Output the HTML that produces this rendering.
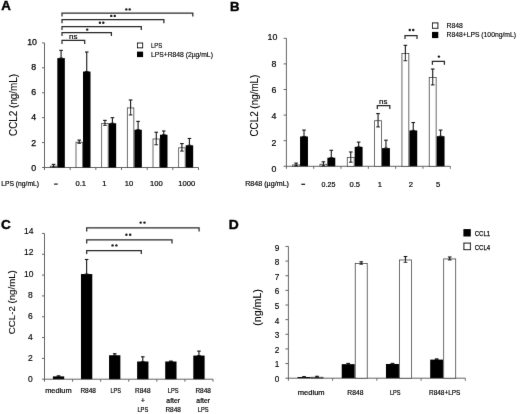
<!DOCTYPE html>
<html><head><meta charset="utf-8"><title>Figure</title>
<style>
html,body{margin:0;padding:0;background:#fff;}
body{width:520px;height:414px;overflow:hidden;}
svg{display:block;font-family:"Liberation Sans",sans-serif;}
</style></head><body>
<svg width="520" height="414" viewBox="0 0 520 414">
<defs><filter id="soft" x="0" y="0" width="520" height="414" filterUnits="userSpaceOnUse"><feConvolveMatrix order="3" kernelMatrix="0.0036 0.0528 0.0036 0.0528 0.7744 0.0528 0.0036 0.0528 0.0036" divisor="1" edgeMode="duplicate" preserveAlpha="false"/></filter></defs>
<rect width="520" height="414" fill="#fff"/>
<g filter="url(#soft)">
<line x1="44.50" y1="42.90" x2="44.50" y2="168.00" stroke="#666" stroke-width="1"/>
<line x1="44.00" y1="167.50" x2="198.50" y2="167.50" stroke="#666" stroke-width="1"/>
<line x1="42.00" y1="167.50" x2="44.50" y2="167.50" stroke="#666" stroke-width="1"/>
<text x="36.20" y="170.77" font-size="8.8" text-anchor="end" fill="#000" stroke="#000" stroke-width="0.25">0</text>
<line x1="42.00" y1="142.58" x2="44.50" y2="142.58" stroke="#666" stroke-width="1"/>
<text x="36.20" y="145.59" font-size="8.8" text-anchor="end" fill="#000" stroke="#000" stroke-width="0.25">2</text>
<line x1="42.00" y1="117.66" x2="44.50" y2="117.66" stroke="#666" stroke-width="1"/>
<text x="36.20" y="120.41" font-size="8.8" text-anchor="end" fill="#000" stroke="#000" stroke-width="0.25">4</text>
<line x1="42.00" y1="92.74" x2="44.50" y2="92.74" stroke="#666" stroke-width="1"/>
<text x="36.20" y="95.23" font-size="8.8" text-anchor="end" fill="#000" stroke="#000" stroke-width="0.25">6</text>
<line x1="42.00" y1="67.82" x2="44.50" y2="67.82" stroke="#666" stroke-width="1"/>
<text x="36.20" y="70.05" font-size="8.8" text-anchor="end" fill="#000" stroke="#000" stroke-width="0.25">8</text>
<line x1="42.00" y1="42.90" x2="44.50" y2="42.90" stroke="#666" stroke-width="1"/>
<text x="37.00" y="44.87" font-size="8.8" text-anchor="end" fill="#000" stroke="#000" stroke-width="0.25">10</text>
<line x1="44.50" y1="167.50" x2="44.50" y2="170.00" stroke="#666" stroke-width="1"/>
<line x1="70.17" y1="167.50" x2="70.17" y2="170.00" stroke="#666" stroke-width="1"/>
<line x1="95.83" y1="167.50" x2="95.83" y2="170.00" stroke="#666" stroke-width="1"/>
<line x1="121.50" y1="167.50" x2="121.50" y2="170.00" stroke="#666" stroke-width="1"/>
<line x1="147.17" y1="167.50" x2="147.17" y2="170.00" stroke="#666" stroke-width="1"/>
<line x1="172.83" y1="167.50" x2="172.83" y2="170.00" stroke="#666" stroke-width="1"/>
<line x1="198.50" y1="167.50" x2="198.50" y2="170.00" stroke="#666" stroke-width="1"/>
<rect x="50.33" y="166.13" width="6.50" height="1.37" fill="#fff" stroke="#3c3c3c" stroke-width="0.8"/>
<line x1="53.58" y1="164.38" x2="53.58" y2="166.88" stroke="#151515" stroke-width="1.1"/>
<line x1="51.78" y1="164.38" x2="55.38" y2="164.38" stroke="#151515" stroke-width="1.1"/>
<line x1="51.78" y1="166.88" x2="55.38" y2="166.88" stroke="#151515" stroke-width="1.1"/>
<rect x="57.33" y="58.10" width="7.50" height="109.40" fill="#000"/>
<line x1="61.08" y1="50.38" x2="61.08" y2="58.10" stroke="#151515" stroke-width="1.1"/>
<line x1="59.28" y1="50.38" x2="62.88" y2="50.38" stroke="#151515" stroke-width="1.1"/>
<line x1="59.28" y1="58.10" x2="62.88" y2="58.10" stroke="#151515" stroke-width="1.1"/>
<rect x="76.00" y="142.21" width="6.50" height="25.29" fill="#fff" stroke="#3c3c3c" stroke-width="0.8"/>
<line x1="79.25" y1="140.09" x2="79.25" y2="143.33" stroke="#151515" stroke-width="1.1"/>
<line x1="77.45" y1="140.09" x2="81.05" y2="140.09" stroke="#151515" stroke-width="1.1"/>
<line x1="77.45" y1="143.33" x2="81.05" y2="143.33" stroke="#151515" stroke-width="1.1"/>
<rect x="83.00" y="71.56" width="7.50" height="95.94" fill="#000"/>
<line x1="86.75" y1="52.00" x2="86.75" y2="71.56" stroke="#151515" stroke-width="1.1"/>
<line x1="84.95" y1="52.00" x2="88.55" y2="52.00" stroke="#151515" stroke-width="1.1"/>
<line x1="84.95" y1="71.56" x2="88.55" y2="71.56" stroke="#151515" stroke-width="1.1"/>
<rect x="101.67" y="123.39" width="6.50" height="44.11" fill="#fff" stroke="#3c3c3c" stroke-width="0.8"/>
<line x1="104.92" y1="120.40" x2="104.92" y2="125.39" stroke="#151515" stroke-width="1.1"/>
<line x1="103.12" y1="120.40" x2="106.72" y2="120.40" stroke="#151515" stroke-width="1.1"/>
<line x1="103.12" y1="125.39" x2="106.72" y2="125.39" stroke="#151515" stroke-width="1.1"/>
<rect x="108.67" y="123.27" width="7.50" height="44.23" fill="#000"/>
<line x1="112.42" y1="117.66" x2="112.42" y2="123.27" stroke="#151515" stroke-width="1.1"/>
<line x1="110.62" y1="117.66" x2="114.22" y2="117.66" stroke="#151515" stroke-width="1.1"/>
<line x1="110.62" y1="123.27" x2="114.22" y2="123.27" stroke="#151515" stroke-width="1.1"/>
<rect x="127.33" y="107.94" width="6.50" height="59.56" fill="#fff" stroke="#3c3c3c" stroke-width="0.8"/>
<line x1="130.58" y1="99.97" x2="130.58" y2="114.92" stroke="#151515" stroke-width="1.1"/>
<line x1="128.78" y1="99.97" x2="132.38" y2="99.97" stroke="#151515" stroke-width="1.1"/>
<line x1="128.78" y1="114.92" x2="132.38" y2="114.92" stroke="#151515" stroke-width="1.1"/>
<rect x="134.33" y="129.75" width="7.50" height="37.75" fill="#000"/>
<line x1="138.08" y1="121.40" x2="138.08" y2="129.75" stroke="#151515" stroke-width="1.1"/>
<line x1="136.28" y1="121.40" x2="139.88" y2="121.40" stroke="#151515" stroke-width="1.1"/>
<line x1="136.28" y1="129.75" x2="139.88" y2="129.75" stroke="#151515" stroke-width="1.1"/>
<rect x="153.00" y="138.97" width="6.50" height="28.53" fill="#fff" stroke="#3c3c3c" stroke-width="0.8"/>
<line x1="156.25" y1="132.24" x2="156.25" y2="144.70" stroke="#151515" stroke-width="1.1"/>
<line x1="154.45" y1="132.24" x2="158.05" y2="132.24" stroke="#151515" stroke-width="1.1"/>
<line x1="154.45" y1="144.70" x2="158.05" y2="144.70" stroke="#151515" stroke-width="1.1"/>
<rect x="160.00" y="134.73" width="7.50" height="32.77" fill="#000"/>
<line x1="163.75" y1="130.99" x2="163.75" y2="134.73" stroke="#151515" stroke-width="1.1"/>
<line x1="161.95" y1="130.99" x2="165.55" y2="130.99" stroke="#151515" stroke-width="1.1"/>
<line x1="161.95" y1="134.73" x2="165.55" y2="134.73" stroke="#151515" stroke-width="1.1"/>
<rect x="178.67" y="147.81" width="6.50" height="19.69" fill="#fff" stroke="#3c3c3c" stroke-width="0.8"/>
<line x1="181.92" y1="143.58" x2="181.92" y2="151.05" stroke="#151515" stroke-width="1.1"/>
<line x1="180.12" y1="143.58" x2="183.72" y2="143.58" stroke="#151515" stroke-width="1.1"/>
<line x1="180.12" y1="151.05" x2="183.72" y2="151.05" stroke="#151515" stroke-width="1.1"/>
<rect x="185.67" y="145.32" width="7.50" height="22.18" fill="#000"/>
<line x1="189.42" y1="138.47" x2="189.42" y2="145.32" stroke="#151515" stroke-width="1.1"/>
<line x1="187.62" y1="138.47" x2="191.22" y2="138.47" stroke="#151515" stroke-width="1.1"/>
<line x1="187.62" y1="145.32" x2="191.22" y2="145.32" stroke="#151515" stroke-width="1.1"/>
<polyline points="62.00,43.90 62.00,40.40 84.70,40.40 84.70,43.90" fill="none" stroke="#2a2a2a" stroke-width="1.25"/>
<polyline points="62.00,36.10 62.00,32.60 111.40,32.60 111.40,36.10" fill="none" stroke="#2a2a2a" stroke-width="1.25"/>
<polyline points="62.00,30.00 62.00,26.50 141.30,26.50 141.30,30.00" fill="none" stroke="#2a2a2a" stroke-width="1.25"/>
<polyline points="62.00,23.20 62.00,19.70 163.90,19.70 163.90,23.20" fill="none" stroke="#2a2a2a" stroke-width="1.25"/>
<polyline points="62.00,16.50 62.00,13.00 192.80,13.00 192.80,16.50" fill="none" stroke="#2a2a2a" stroke-width="1.25"/>
<text x="73.30" y="39.00" font-size="8" text-anchor="middle" fill="#000" stroke="#000" stroke-width="0.2">ns</text>
<circle cx="87.20" cy="29.60" r="1.22" fill="#151515"/>
<circle cx="99.90" cy="22.80" r="1.22" fill="#151515"/>
<circle cx="103.30" cy="22.80" r="1.22" fill="#151515"/>
<circle cx="111.30" cy="15.90" r="1.22" fill="#151515"/>
<circle cx="114.70" cy="15.90" r="1.22" fill="#151515"/>
<circle cx="126.30" cy="9.40" r="1.22" fill="#151515"/>
<circle cx="129.70" cy="9.40" r="1.22" fill="#151515"/>
<text x="1.20" y="10.40" font-size="12" text-anchor="start" fill="#000" font-weight="bold" textLength="9.60" lengthAdjust="spacingAndGlyphs" stroke="#000" stroke-width="0.4">A</text>
<text x="16.80" y="104.90" font-size="10" text-anchor="middle" fill="#000" textLength="62.00" lengthAdjust="spacingAndGlyphs" transform="rotate(-90 16.80 104.90)" stroke="#000" stroke-width="0.1">CCL2 (ng/mL)</text>
<text x="1.30" y="186.20" font-size="7.6" text-anchor="start" fill="#000" textLength="37.70" lengthAdjust="spacingAndGlyphs" stroke="#000" stroke-width="0.2">LPS (ng/mL)</text>
<text x="80.80" y="186.20" font-size="7.6" text-anchor="middle" fill="#000" stroke="#000" stroke-width="0.2">0.1</text>
<text x="104.30" y="186.20" font-size="7.6" text-anchor="middle" fill="#000" stroke="#000" stroke-width="0.2">1</text>
<text x="128.90" y="186.20" font-size="7.6" text-anchor="middle" fill="#000" stroke="#000" stroke-width="0.2">10</text>
<text x="156.30" y="186.20" font-size="7.6" text-anchor="middle" fill="#000" stroke="#000" stroke-width="0.2">100</text>
<text x="186.70" y="186.20" font-size="7.6" text-anchor="middle" fill="#000" stroke="#000" stroke-width="0.2">1000</text>
<line x1="54.10" y1="184.10" x2="57.70" y2="184.10" stroke="#111" stroke-width="1.2"/>
<rect x="137.5" y="43" width="5.1" height="4.8" fill="#fff" stroke="#111" stroke-width="1"/>
<rect x="137" y="51.6" width="6.1" height="5.5" fill="#000"/>
<text x="150.90" y="48.30" font-size="7" text-anchor="start" fill="#000" textLength="11.30" lengthAdjust="spacingAndGlyphs" stroke="#000" stroke-width="0.15">LPS</text>
<text x="150.90" y="56.60" font-size="7" text-anchor="start" fill="#000" textLength="62.00" lengthAdjust="spacingAndGlyphs" stroke="#000" stroke-width="0.15">LPS+R848 (2µg/mL)</text>
<line x1="286.40" y1="38.30" x2="286.40" y2="166.80" stroke="#666" stroke-width="1"/>
<line x1="285.90" y1="166.30" x2="450.30" y2="166.30" stroke="#666" stroke-width="1"/>
<line x1="283.60" y1="166.30" x2="286.40" y2="166.30" stroke="#666" stroke-width="1"/>
<text x="276.50" y="172.27" font-size="8.8" text-anchor="end" fill="#000" stroke="#000" stroke-width="0.2">0</text>
<line x1="283.60" y1="140.70" x2="286.40" y2="140.70" stroke="#666" stroke-width="1"/>
<text x="276.50" y="145.87" font-size="8.8" text-anchor="end" fill="#000" stroke="#000" stroke-width="0.2">2</text>
<line x1="283.60" y1="115.10" x2="286.40" y2="115.10" stroke="#666" stroke-width="1"/>
<text x="276.50" y="119.47" font-size="8.8" text-anchor="end" fill="#000" stroke="#000" stroke-width="0.2">4</text>
<line x1="283.60" y1="89.50" x2="286.40" y2="89.50" stroke="#666" stroke-width="1"/>
<text x="276.50" y="93.07" font-size="8.8" text-anchor="end" fill="#000" stroke="#000" stroke-width="0.2">6</text>
<line x1="283.60" y1="63.90" x2="286.40" y2="63.90" stroke="#666" stroke-width="1"/>
<text x="276.50" y="66.67" font-size="8.8" text-anchor="end" fill="#000" stroke="#000" stroke-width="0.2">8</text>
<line x1="283.60" y1="38.30" x2="286.40" y2="38.30" stroke="#666" stroke-width="1"/>
<text x="277.30" y="40.27" font-size="8.8" text-anchor="end" fill="#000" stroke="#000" stroke-width="0.2">10</text>
<line x1="286.40" y1="166.30" x2="286.40" y2="168.80" stroke="#666" stroke-width="1"/>
<line x1="313.72" y1="166.30" x2="313.72" y2="168.80" stroke="#666" stroke-width="1"/>
<line x1="341.03" y1="166.30" x2="341.03" y2="168.80" stroke="#666" stroke-width="1"/>
<line x1="368.35" y1="166.30" x2="368.35" y2="168.80" stroke="#666" stroke-width="1"/>
<line x1="395.67" y1="166.30" x2="395.67" y2="168.80" stroke="#666" stroke-width="1"/>
<line x1="422.98" y1="166.30" x2="422.98" y2="168.80" stroke="#666" stroke-width="1"/>
<line x1="450.30" y1="166.30" x2="450.30" y2="168.80" stroke="#666" stroke-width="1"/>
<rect x="292.66" y="164.88" width="6.90" height="1.42" fill="#fff" stroke="#3c3c3c" stroke-width="0.8"/>
<line x1="296.11" y1="163.10" x2="296.11" y2="165.66" stroke="#151515" stroke-width="1.1"/>
<line x1="294.31" y1="163.10" x2="297.91" y2="163.10" stroke="#151515" stroke-width="1.1"/>
<line x1="294.31" y1="165.66" x2="297.91" y2="165.66" stroke="#151515" stroke-width="1.1"/>
<rect x="300.06" y="136.48" width="7.90" height="29.82" fill="#000"/>
<line x1="304.01" y1="130.08" x2="304.01" y2="136.48" stroke="#151515" stroke-width="1.1"/>
<line x1="302.21" y1="130.08" x2="305.81" y2="130.08" stroke="#151515" stroke-width="1.1"/>
<line x1="302.21" y1="136.48" x2="305.81" y2="136.48" stroke="#151515" stroke-width="1.1"/>
<rect x="319.98" y="164.24" width="6.90" height="2.06" fill="#fff" stroke="#3c3c3c" stroke-width="0.8"/>
<line x1="323.43" y1="161.82" x2="323.43" y2="165.66" stroke="#151515" stroke-width="1.1"/>
<line x1="321.62" y1="161.82" x2="325.23" y2="161.82" stroke="#151515" stroke-width="1.1"/>
<line x1="321.62" y1="165.66" x2="325.23" y2="165.66" stroke="#151515" stroke-width="1.1"/>
<rect x="327.38" y="157.72" width="7.90" height="8.58" fill="#000"/>
<line x1="331.32" y1="150.30" x2="331.32" y2="157.72" stroke="#151515" stroke-width="1.1"/>
<line x1="329.52" y1="150.30" x2="333.12" y2="150.30" stroke="#151515" stroke-width="1.1"/>
<line x1="329.52" y1="157.72" x2="333.12" y2="157.72" stroke="#151515" stroke-width="1.1"/>
<rect x="347.29" y="157.58" width="6.90" height="8.72" fill="#fff" stroke="#3c3c3c" stroke-width="0.8"/>
<line x1="350.74" y1="151.96" x2="350.74" y2="162.20" stroke="#151515" stroke-width="1.1"/>
<line x1="348.94" y1="151.96" x2="352.54" y2="151.96" stroke="#151515" stroke-width="1.1"/>
<line x1="348.94" y1="162.20" x2="352.54" y2="162.20" stroke="#151515" stroke-width="1.1"/>
<rect x="354.69" y="146.84" width="7.90" height="19.46" fill="#000"/>
<line x1="358.64" y1="142.11" x2="358.64" y2="146.84" stroke="#151515" stroke-width="1.1"/>
<line x1="356.84" y1="142.11" x2="360.44" y2="142.11" stroke="#151515" stroke-width="1.1"/>
<line x1="356.84" y1="146.84" x2="360.44" y2="146.84" stroke="#151515" stroke-width="1.1"/>
<rect x="374.61" y="120.72" width="6.90" height="45.58" fill="#fff" stroke="#3c3c3c" stroke-width="0.8"/>
<line x1="378.06" y1="113.56" x2="378.06" y2="126.88" stroke="#151515" stroke-width="1.1"/>
<line x1="376.26" y1="113.56" x2="379.86" y2="113.56" stroke="#151515" stroke-width="1.1"/>
<line x1="376.26" y1="126.88" x2="379.86" y2="126.88" stroke="#151515" stroke-width="1.1"/>
<rect x="382.01" y="148.12" width="7.90" height="18.18" fill="#000"/>
<line x1="385.96" y1="140.19" x2="385.96" y2="148.12" stroke="#151515" stroke-width="1.1"/>
<line x1="384.16" y1="140.19" x2="387.76" y2="140.19" stroke="#151515" stroke-width="1.1"/>
<line x1="384.16" y1="148.12" x2="387.76" y2="148.12" stroke="#151515" stroke-width="1.1"/>
<rect x="401.93" y="53.52" width="6.90" height="112.78" fill="#fff" stroke="#3c3c3c" stroke-width="0.8"/>
<line x1="405.38" y1="45.34" x2="405.38" y2="60.70" stroke="#151515" stroke-width="1.1"/>
<line x1="403.57" y1="45.34" x2="407.18" y2="45.34" stroke="#151515" stroke-width="1.1"/>
<line x1="403.57" y1="60.70" x2="407.18" y2="60.70" stroke="#151515" stroke-width="1.1"/>
<rect x="409.32" y="130.46" width="7.90" height="35.84" fill="#000"/>
<line x1="413.27" y1="122.52" x2="413.27" y2="130.46" stroke="#151515" stroke-width="1.1"/>
<line x1="411.47" y1="122.52" x2="415.07" y2="122.52" stroke="#151515" stroke-width="1.1"/>
<line x1="411.47" y1="130.46" x2="415.07" y2="130.46" stroke="#151515" stroke-width="1.1"/>
<rect x="429.24" y="77.46" width="6.90" height="88.84" fill="#fff" stroke="#3c3c3c" stroke-width="0.8"/>
<line x1="432.69" y1="69.02" x2="432.69" y2="84.89" stroke="#151515" stroke-width="1.1"/>
<line x1="430.89" y1="69.02" x2="434.49" y2="69.02" stroke="#151515" stroke-width="1.1"/>
<line x1="430.89" y1="84.89" x2="434.49" y2="84.89" stroke="#151515" stroke-width="1.1"/>
<rect x="436.64" y="136.22" width="7.90" height="30.08" fill="#000"/>
<line x1="440.59" y1="130.08" x2="440.59" y2="136.22" stroke="#151515" stroke-width="1.1"/>
<line x1="438.79" y1="130.08" x2="442.39" y2="130.08" stroke="#151515" stroke-width="1.1"/>
<line x1="438.79" y1="136.22" x2="442.39" y2="136.22" stroke="#151515" stroke-width="1.1"/>
<polyline points="377.30,109.00 377.30,105.70 389.80,105.70 389.80,109.00" fill="none" stroke="#2a2a2a" stroke-width="1.25"/>
<polyline points="405.00,38.90 405.00,35.60 417.00,35.60 417.00,38.90" fill="none" stroke="#2a2a2a" stroke-width="1.25"/>
<polyline points="432.40,64.70 432.40,61.40 444.40,61.40 444.40,64.70" fill="none" stroke="#2a2a2a" stroke-width="1.25"/>
<text x="383.20" y="103.80" font-size="8" text-anchor="middle" fill="#000" stroke="#000" stroke-width="0.2">ns</text>
<circle cx="409.80" cy="30.00" r="1.22" fill="#151515"/>
<circle cx="413.20" cy="30.00" r="1.22" fill="#151515"/>
<circle cx="438.90" cy="56.60" r="1.22" fill="#151515"/>
<text x="230.00" y="10.50" font-size="12" text-anchor="start" fill="#000" font-weight="bold" textLength="9.50" lengthAdjust="spacingAndGlyphs" stroke="#000" stroke-width="0.4">B</text>
<text x="257.60" y="105.60" font-size="10" text-anchor="middle" fill="#000" textLength="62.00" lengthAdjust="spacingAndGlyphs" transform="rotate(-90 257.60 105.60)" stroke="#000" stroke-width="0.1">CCL2 (ng/mL)</text>
<text x="245.20" y="186.30" font-size="7.6" text-anchor="start" fill="#000" textLength="43.80" lengthAdjust="spacingAndGlyphs" stroke="#000" stroke-width="0.2">R848 (µg/mL)</text>
<text x="328.50" y="186.70" font-size="7.6" text-anchor="middle" fill="#000" textLength="13.80" lengthAdjust="spacingAndGlyphs" stroke="#000" stroke-width="0.2">0.25</text>
<text x="354.70" y="186.70" font-size="7.6" text-anchor="middle" fill="#000" stroke="#000" stroke-width="0.2">0.5</text>
<text x="379.80" y="186.70" font-size="7.6" text-anchor="middle" fill="#000" stroke="#000" stroke-width="0.2">1</text>
<text x="410.90" y="186.70" font-size="7.6" text-anchor="middle" fill="#000" stroke="#000" stroke-width="0.2">2</text>
<text x="438.20" y="186.70" font-size="7.6" text-anchor="middle" fill="#000" stroke="#000" stroke-width="0.2">5</text>
<line x1="301.30" y1="184.30" x2="305.10" y2="184.30" stroke="#111" stroke-width="1.2"/>
<rect x="432.5" y="22.9" width="5.4" height="5.4" fill="#fff" stroke="#111" stroke-width="1"/>
<rect x="432" y="31.9" width="6.3" height="6.2" fill="#000"/>
<text x="446.50" y="28.30" font-size="7.4" text-anchor="start" fill="#000" textLength="16.40" lengthAdjust="spacingAndGlyphs" stroke="#000" stroke-width="0.15">R848</text>
<text x="446.50" y="37.20" font-size="7.4" text-anchor="start" fill="#000" textLength="69.50" lengthAdjust="spacingAndGlyphs" stroke="#000" stroke-width="0.15">R848+LPS (100ng/mL)</text>
<line x1="44.50" y1="233.40" x2="44.50" y2="379.70" stroke="#666" stroke-width="1"/>
<line x1="44.00" y1="379.20" x2="213.00" y2="379.20" stroke="#666" stroke-width="1"/>
<line x1="42.00" y1="379.20" x2="44.50" y2="379.20" stroke="#666" stroke-width="1"/>
<text x="32.70" y="382.16" font-size="8.5" text-anchor="end" fill="#000" stroke="#000" stroke-width="0.15">0</text>
<line x1="42.00" y1="358.38" x2="44.50" y2="358.38" stroke="#666" stroke-width="1"/>
<text x="32.70" y="361.04" font-size="8.5" text-anchor="end" fill="#000" stroke="#000" stroke-width="0.15">2</text>
<line x1="42.00" y1="337.56" x2="44.50" y2="337.56" stroke="#666" stroke-width="1"/>
<text x="32.70" y="339.92" font-size="8.5" text-anchor="end" fill="#000" stroke="#000" stroke-width="0.15">4</text>
<line x1="42.00" y1="316.74" x2="44.50" y2="316.74" stroke="#666" stroke-width="1"/>
<text x="32.70" y="318.80" font-size="8.5" text-anchor="end" fill="#000" stroke="#000" stroke-width="0.15">6</text>
<line x1="42.00" y1="295.92" x2="44.50" y2="295.92" stroke="#666" stroke-width="1"/>
<text x="32.70" y="297.68" font-size="8.5" text-anchor="end" fill="#000" stroke="#000" stroke-width="0.15">8</text>
<line x1="42.00" y1="275.10" x2="44.50" y2="275.10" stroke="#666" stroke-width="1"/>
<text x="33.50" y="276.56" font-size="8.5" text-anchor="end" fill="#000" stroke="#000" stroke-width="0.15">10</text>
<line x1="42.00" y1="254.28" x2="44.50" y2="254.28" stroke="#666" stroke-width="1"/>
<text x="33.50" y="255.44" font-size="8.5" text-anchor="end" fill="#000" stroke="#000" stroke-width="0.15">12</text>
<line x1="42.00" y1="233.46" x2="44.50" y2="233.46" stroke="#666" stroke-width="1"/>
<text x="33.50" y="234.32" font-size="8.5" text-anchor="end" fill="#000" stroke="#000" stroke-width="0.15">14</text>
<line x1="44.50" y1="379.20" x2="44.50" y2="381.70" stroke="#666" stroke-width="1"/>
<line x1="72.58" y1="379.20" x2="72.58" y2="381.70" stroke="#666" stroke-width="1"/>
<line x1="100.67" y1="379.20" x2="100.67" y2="381.70" stroke="#666" stroke-width="1"/>
<line x1="128.75" y1="379.20" x2="128.75" y2="381.70" stroke="#666" stroke-width="1"/>
<line x1="156.83" y1="379.20" x2="156.83" y2="381.70" stroke="#666" stroke-width="1"/>
<line x1="184.92" y1="379.20" x2="184.92" y2="381.70" stroke="#666" stroke-width="1"/>
<line x1="213.00" y1="379.20" x2="213.00" y2="381.70" stroke="#666" stroke-width="1"/>
<rect x="52.89" y="376.39" width="11.30" height="2.81" fill="#000"/>
<line x1="58.54" y1="375.87" x2="58.54" y2="376.39" stroke="#151515" stroke-width="1.1"/>
<line x1="56.74" y1="375.87" x2="60.34" y2="375.87" stroke="#151515" stroke-width="1.1"/>
<line x1="56.74" y1="376.39" x2="60.34" y2="376.39" stroke="#151515" stroke-width="1.1"/>
<rect x="80.97" y="274.06" width="11.30" height="105.14" fill="#000"/>
<line x1="86.62" y1="259.49" x2="86.62" y2="274.06" stroke="#151515" stroke-width="1.1"/>
<line x1="84.83" y1="259.49" x2="88.42" y2="259.49" stroke="#151515" stroke-width="1.1"/>
<line x1="84.83" y1="274.06" x2="88.42" y2="274.06" stroke="#151515" stroke-width="1.1"/>
<rect x="109.06" y="355.26" width="11.30" height="23.94" fill="#000"/>
<line x1="114.71" y1="353.70" x2="114.71" y2="355.26" stroke="#151515" stroke-width="1.1"/>
<line x1="112.91" y1="353.70" x2="116.51" y2="353.70" stroke="#151515" stroke-width="1.1"/>
<line x1="112.91" y1="355.26" x2="116.51" y2="355.26" stroke="#151515" stroke-width="1.1"/>
<rect x="137.14" y="361.50" width="11.30" height="17.70" fill="#000"/>
<line x1="142.79" y1="356.82" x2="142.79" y2="361.50" stroke="#151515" stroke-width="1.1"/>
<line x1="140.99" y1="356.82" x2="144.59" y2="356.82" stroke="#151515" stroke-width="1.1"/>
<line x1="140.99" y1="361.50" x2="144.59" y2="361.50" stroke="#151515" stroke-width="1.1"/>
<rect x="165.22" y="361.50" width="11.30" height="17.70" fill="#000"/>
<line x1="170.88" y1="361.09" x2="170.88" y2="361.50" stroke="#151515" stroke-width="1.1"/>
<line x1="169.07" y1="361.09" x2="172.68" y2="361.09" stroke="#151515" stroke-width="1.1"/>
<line x1="169.07" y1="361.50" x2="172.68" y2="361.50" stroke="#151515" stroke-width="1.1"/>
<rect x="193.31" y="355.57" width="11.30" height="23.63" fill="#000"/>
<line x1="198.96" y1="351.09" x2="198.96" y2="355.57" stroke="#151515" stroke-width="1.1"/>
<line x1="197.16" y1="351.09" x2="200.76" y2="351.09" stroke="#151515" stroke-width="1.1"/>
<line x1="197.16" y1="355.57" x2="200.76" y2="355.57" stroke="#151515" stroke-width="1.1"/>
<polyline points="86.70,254.00 86.70,250.50 141.30,250.50 141.30,254.00" fill="none" stroke="#2a2a2a" stroke-width="1.25"/>
<polyline points="86.70,243.40 86.70,239.90 172.00,239.90 172.00,243.40" fill="none" stroke="#2a2a2a" stroke-width="1.25"/>
<polyline points="86.70,231.40 86.70,227.90 199.10,227.90 199.10,231.40" fill="none" stroke="#2a2a2a" stroke-width="1.25"/>
<circle cx="112.60" cy="245.40" r="1.22" fill="#151515"/>
<circle cx="116.40" cy="245.40" r="1.22" fill="#151515"/>
<circle cx="126.40" cy="234.80" r="1.22" fill="#151515"/>
<circle cx="130.20" cy="234.80" r="1.22" fill="#151515"/>
<circle cx="140.70" cy="222.60" r="1.22" fill="#151515"/>
<circle cx="144.50" cy="222.60" r="1.22" fill="#151515"/>
<text x="1.00" y="229.40" font-size="12.5" text-anchor="start" fill="#000" font-weight="bold" textLength="9.80" lengthAdjust="spacingAndGlyphs" stroke="#000" stroke-width="0.4">C</text>
<text x="15.20" y="302.20" font-size="9.8" text-anchor="middle" fill="#000" textLength="64.00" lengthAdjust="spacingAndGlyphs" transform="rotate(-90 15.20 302.20)" stroke="#000" stroke-width="0.1">CCL-2 (ng/mL)</text>
<text x="58.40" y="393.30" font-size="7.3" text-anchor="middle" fill="#000" textLength="26.40" lengthAdjust="spacingAndGlyphs" stroke="#000" stroke-width="0.2">medium</text>
<text x="88.20" y="393.30" font-size="7.3" text-anchor="middle" fill="#000" textLength="15.60" lengthAdjust="spacingAndGlyphs" stroke="#000" stroke-width="0.2">R848</text>
<text x="115.80" y="393.30" font-size="7.3" text-anchor="middle" fill="#000" textLength="10.60" lengthAdjust="spacingAndGlyphs" stroke="#000" stroke-width="0.2">LPS</text>
<text x="142.80" y="393.10" font-size="7.3" text-anchor="middle" fill="#000" textLength="15.50" lengthAdjust="spacingAndGlyphs" stroke="#000" stroke-width="0.2">R848</text>
<text x="142.80" y="402.55" font-size="7.3" text-anchor="middle" fill="#000" stroke="#000" stroke-width="0.2">+</text>
<text x="142.80" y="412.00" font-size="7.3" text-anchor="middle" fill="#000" textLength="10.80" lengthAdjust="spacingAndGlyphs" stroke="#000" stroke-width="0.2">LPS</text>
<text x="173.20" y="393.10" font-size="7.3" text-anchor="middle" fill="#000" textLength="10.80" lengthAdjust="spacingAndGlyphs" stroke="#000" stroke-width="0.2">LPS</text>
<text x="173.20" y="402.55" font-size="7.3" text-anchor="middle" fill="#000" textLength="13.70" lengthAdjust="spacingAndGlyphs" stroke="#000" stroke-width="0.2">after</text>
<text x="173.20" y="412.00" font-size="7.3" text-anchor="middle" fill="#000" textLength="15.50" lengthAdjust="spacingAndGlyphs" stroke="#000" stroke-width="0.2">R848</text>
<text x="203.20" y="393.10" font-size="7.3" text-anchor="middle" fill="#000" textLength="15.50" lengthAdjust="spacingAndGlyphs" stroke="#000" stroke-width="0.2">R848</text>
<text x="203.20" y="402.55" font-size="7.3" text-anchor="middle" fill="#000" textLength="13.70" lengthAdjust="spacingAndGlyphs" stroke="#000" stroke-width="0.2">after</text>
<text x="203.20" y="412.00" font-size="7.3" text-anchor="middle" fill="#000" textLength="10.80" lengthAdjust="spacingAndGlyphs" stroke="#000" stroke-width="0.2">LPS</text>
<line x1="288.40" y1="246.40" x2="288.40" y2="378.70" stroke="#666" stroke-width="1"/>
<line x1="287.90" y1="378.20" x2="465.30" y2="378.20" stroke="#666" stroke-width="1"/>
<line x1="285.40" y1="378.20" x2="288.40" y2="378.20" stroke="#666" stroke-width="1"/>
<text x="279.30" y="381.95" font-size="8.2" text-anchor="end" fill="#000" stroke="#000" stroke-width="0.15">0</text>
<line x1="285.40" y1="363.56" x2="288.40" y2="363.56" stroke="#666" stroke-width="1"/>
<text x="279.30" y="367.36" font-size="8.2" text-anchor="end" fill="#000" stroke="#000" stroke-width="0.15">1</text>
<line x1="285.40" y1="348.92" x2="288.40" y2="348.92" stroke="#666" stroke-width="1"/>
<text x="279.30" y="352.77" font-size="8.2" text-anchor="end" fill="#000" stroke="#000" stroke-width="0.15">2</text>
<line x1="285.40" y1="334.28" x2="288.40" y2="334.28" stroke="#666" stroke-width="1"/>
<text x="279.30" y="338.18" font-size="8.2" text-anchor="end" fill="#000" stroke="#000" stroke-width="0.15">3</text>
<line x1="285.40" y1="319.64" x2="288.40" y2="319.64" stroke="#666" stroke-width="1"/>
<text x="279.30" y="323.59" font-size="8.2" text-anchor="end" fill="#000" stroke="#000" stroke-width="0.15">4</text>
<line x1="285.40" y1="305.00" x2="288.40" y2="305.00" stroke="#666" stroke-width="1"/>
<text x="279.30" y="309.00" font-size="8.2" text-anchor="end" fill="#000" stroke="#000" stroke-width="0.15">5</text>
<line x1="285.40" y1="290.36" x2="288.40" y2="290.36" stroke="#666" stroke-width="1"/>
<text x="279.30" y="294.41" font-size="8.2" text-anchor="end" fill="#000" stroke="#000" stroke-width="0.15">6</text>
<line x1="285.40" y1="275.72" x2="288.40" y2="275.72" stroke="#666" stroke-width="1"/>
<text x="279.30" y="279.82" font-size="8.2" text-anchor="end" fill="#000" stroke="#000" stroke-width="0.15">7</text>
<line x1="285.40" y1="261.08" x2="288.40" y2="261.08" stroke="#666" stroke-width="1"/>
<text x="279.30" y="265.23" font-size="8.2" text-anchor="end" fill="#000" stroke="#000" stroke-width="0.15">8</text>
<line x1="285.40" y1="246.44" x2="288.40" y2="246.44" stroke="#666" stroke-width="1"/>
<text x="279.30" y="250.64" font-size="8.2" text-anchor="end" fill="#000" stroke="#000" stroke-width="0.15">9</text>
<line x1="288.40" y1="378.20" x2="288.40" y2="380.70" stroke="#666" stroke-width="1"/>
<line x1="332.62" y1="378.20" x2="332.62" y2="380.70" stroke="#666" stroke-width="1"/>
<line x1="376.85" y1="378.20" x2="376.85" y2="380.70" stroke="#666" stroke-width="1"/>
<line x1="421.07" y1="378.20" x2="421.07" y2="380.70" stroke="#666" stroke-width="1"/>
<line x1="465.30" y1="378.20" x2="465.30" y2="380.70" stroke="#666" stroke-width="1"/>
<rect x="297.51" y="377.03" width="13.00" height="1.17" fill="#000"/>
<line x1="304.01" y1="376.74" x2="304.01" y2="377.03" stroke="#151515" stroke-width="1.1"/>
<line x1="302.21" y1="376.74" x2="305.81" y2="376.74" stroke="#151515" stroke-width="1.1"/>
<line x1="302.21" y1="377.03" x2="305.81" y2="377.03" stroke="#151515" stroke-width="1.1"/>
<rect x="311.01" y="377.24" width="12.00" height="0.96" fill="#fff" stroke="#3c3c3c" stroke-width="0.8"/>
<line x1="317.01" y1="376.30" x2="317.01" y2="377.18" stroke="#151515" stroke-width="1.1"/>
<line x1="315.21" y1="376.30" x2="318.81" y2="376.30" stroke="#151515" stroke-width="1.1"/>
<line x1="315.21" y1="377.18" x2="318.81" y2="377.18" stroke="#151515" stroke-width="1.1"/>
<rect x="341.74" y="364.15" width="13.00" height="14.05" fill="#000"/>
<line x1="348.24" y1="363.41" x2="348.24" y2="364.15" stroke="#151515" stroke-width="1.1"/>
<line x1="346.44" y1="363.41" x2="350.04" y2="363.41" stroke="#151515" stroke-width="1.1"/>
<line x1="346.44" y1="364.15" x2="350.04" y2="364.15" stroke="#151515" stroke-width="1.1"/>
<rect x="355.24" y="263.48" width="12.00" height="114.72" fill="#fff" stroke="#3c3c3c" stroke-width="0.8"/>
<line x1="361.24" y1="261.81" x2="361.24" y2="264.15" stroke="#151515" stroke-width="1.1"/>
<line x1="359.44" y1="261.81" x2="363.04" y2="261.81" stroke="#151515" stroke-width="1.1"/>
<line x1="359.44" y1="264.15" x2="363.04" y2="264.15" stroke="#151515" stroke-width="1.1"/>
<rect x="385.96" y="364.00" width="13.00" height="14.20" fill="#000"/>
<line x1="392.46" y1="363.41" x2="392.46" y2="364.00" stroke="#151515" stroke-width="1.1"/>
<line x1="390.66" y1="363.41" x2="394.26" y2="363.41" stroke="#151515" stroke-width="1.1"/>
<line x1="390.66" y1="364.00" x2="394.26" y2="364.00" stroke="#151515" stroke-width="1.1"/>
<rect x="399.46" y="259.97" width="12.00" height="118.23" fill="#fff" stroke="#3c3c3c" stroke-width="0.8"/>
<line x1="405.46" y1="256.54" x2="405.46" y2="262.40" stroke="#151515" stroke-width="1.1"/>
<line x1="403.66" y1="256.54" x2="407.26" y2="256.54" stroke="#151515" stroke-width="1.1"/>
<line x1="403.66" y1="262.40" x2="407.26" y2="262.40" stroke="#151515" stroke-width="1.1"/>
<rect x="430.19" y="359.61" width="13.00" height="18.59" fill="#000"/>
<line x1="436.69" y1="358.88" x2="436.69" y2="359.61" stroke="#151515" stroke-width="1.1"/>
<line x1="434.89" y1="358.88" x2="438.49" y2="358.88" stroke="#151515" stroke-width="1.1"/>
<line x1="434.89" y1="359.61" x2="438.49" y2="359.61" stroke="#151515" stroke-width="1.1"/>
<rect x="443.69" y="258.94" width="12.00" height="119.26" fill="#fff" stroke="#3c3c3c" stroke-width="0.8"/>
<line x1="449.69" y1="256.98" x2="449.69" y2="259.91" stroke="#151515" stroke-width="1.1"/>
<line x1="447.89" y1="256.98" x2="451.49" y2="256.98" stroke="#151515" stroke-width="1.1"/>
<line x1="447.89" y1="259.91" x2="451.49" y2="259.91" stroke="#151515" stroke-width="1.1"/>
<text x="228.80" y="228.60" font-size="12.5" text-anchor="start" fill="#000" font-weight="bold" textLength="10.00" lengthAdjust="spacingAndGlyphs" stroke="#000" stroke-width="0.4">D</text>
<text x="260.60" y="307.40" font-size="10.2" text-anchor="middle" fill="#000" textLength="36.60" lengthAdjust="spacingAndGlyphs" transform="rotate(-90 260.60 307.40)" stroke="#000" stroke-width="0.1">(ng/mL)</text>
<text x="311.20" y="394.70" font-size="7.3" text-anchor="middle" fill="#000" textLength="26.90" lengthAdjust="spacingAndGlyphs" stroke="#000" stroke-width="0.2">medium</text>
<text x="355.40" y="394.70" font-size="7.3" text-anchor="middle" fill="#000" textLength="16.10" lengthAdjust="spacingAndGlyphs" stroke="#000" stroke-width="0.2">R848</text>
<text x="395.30" y="394.70" font-size="7.3" text-anchor="middle" fill="#000" textLength="10.60" lengthAdjust="spacingAndGlyphs" stroke="#000" stroke-width="0.2">LPS</text>
<text x="444.70" y="394.70" font-size="7.3" text-anchor="middle" fill="#000" textLength="31.40" lengthAdjust="spacingAndGlyphs" stroke="#000" stroke-width="0.2">R848+LPS</text>
<rect x="463.4" y="229.1" width="7.4" height="7.4" fill="#000"/>
<rect x="463.9" y="243.1" width="6.5" height="6.5" fill="#fff" stroke="#111" stroke-width="1.05"/>
<text x="474.70" y="235.80" font-size="7.5" text-anchor="start" fill="#000" textLength="15.40" lengthAdjust="spacingAndGlyphs" stroke="#000" stroke-width="0.25">CCL1</text>
<text x="474.70" y="249.80" font-size="7.5" text-anchor="start" fill="#000" textLength="15.40" lengthAdjust="spacingAndGlyphs" stroke="#000" stroke-width="0.25">CCL4</text>
</g>
</svg>
</body></html>
